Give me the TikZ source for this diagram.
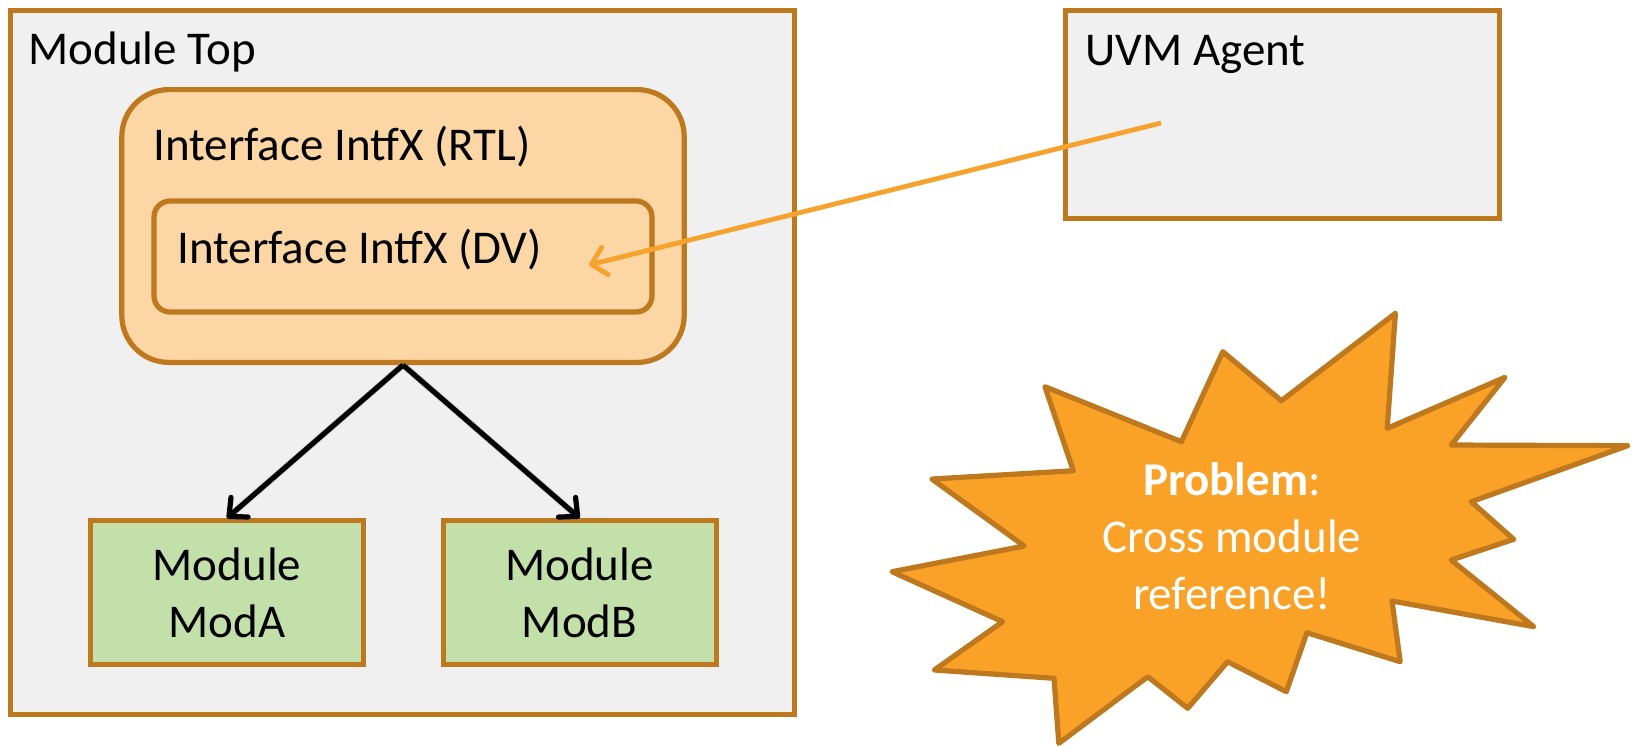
\documentclass[tikz,border=0pt]{standalone}
\usepackage{fontspec}
\setmainfont{Carlito}
\usetikzlibrary{arrows.meta}
\definecolor{boxedge}{RGB}{190,120,30}
\definecolor{topfill}{RGB}{240,240,240}
\definecolor{intffill}{RGB}{252,214,165}
\definecolor{modfill}{RGB}{195,224,171}
\definecolor{burstfill}{RGB}{250,161,40}
\definecolor{linkorange}{RGB}{248,162,46}
\begin{document}
\begin{tikzpicture}[x=0.5pt,y=-0.5pt,
  frame/.style={draw=boxedge, line width=2.6pt, inner sep=0pt},
  txt/.style={font=\fontsize{23.5}{28.5}\selectfont, inner sep=0pt},
  lbl/.style={txt, anchor=base west},
  modbox/.style={frame, fill=modfill, txt, align=center,
    minimum width=136.5pt, minimum height=71.8pt},
  hier/.style={line width=2.6pt, black,
    -{Straight Barb[length=7pt,width=13pt,round]}},
  hiershadow/.style={line width=3.5pt, black!25, opacity=0.5,
    shorten >=4pt, shift={(2,2)}},
  xref/.style={line width=2.4pt, linkorange,
    -{Straight Barb[length=7pt,width=14pt,round]}},
  burst/.style={draw=boxedge, fill=burstfill, line width=2.6pt, line join=round}]
\useasboundingbox (0,0) rectangle (1633,746);

% top-level module with its interface and sub-modules
\node[frame, fill=topfill, minimum width=392pt, minimum height=352pt] (top) at (402.5,362.4) {};
\node[lbl] (toplbl) at (28,64.6) {Module Top};

\node[frame, fill=intffill, rounded corners=23.5pt,
      minimum width=281.2pt, minimum height=136.4pt] (rtl) at (403,226) {};
\node[lbl] (rtllbl) at (153,160) {Interface IntfX (RTL)};

\node[frame, fill=intffill, rounded corners=8pt,
      minimum width=249pt, minimum height=55.5pt] (dv) at (403,256.5) {};
\node[lbl] (dvlbl) at (177,263) {Interface IntfX (DV)};

\node[modbox] (moda) at (227,592.5) {Module\\ModA};
\node[modbox] (modb) at (579.6,592.5) {Module\\ModB};

\draw[hiershadow] (rtl.south) -- (moda.north);
\draw[hiershadow] (rtl.south) -- (modb.north);
\draw[hier] (rtl.south) -- (moda.north);
\draw[hier] (rtl.south) -- (modb.north);

% verification agent
\node[frame, fill=topfill, minimum width=217.2pt, minimum height=104.2pt] (uvm) at (1282.5,114.5) {};
\node[lbl] (uvmlbl) at (1085,65) {UVM Agent};

\coordinate (uvmsrc) at (1161,123);
\coordinate (dvdst) at (589,265);
\draw[xref] (uvmsrc) -- (dvdst);

% explosion callout
\draw[burst] (1395.4,313.3) -- (1387.2,428.3) -- (1505,377.3) -- (1451.2,445)
  -- (1627.6,445.7) -- (1471.3,501.7) -- (1513.7,539.3) -- (1451.2,560)
  -- (1533.8,626.7) -- (1392,601) -- (1400.2,661.7) -- (1306.9,632.7)
  -- (1286.3,691.7) -- (1227.6,661.7) -- (1187.7,708.3) -- (1147.8,676.7)
  -- (1058.8,743.3) -- (1054,678.3) -- (934.3,670) -- (1002.6,621.7)
  -- (892,571.7) -- (1024.2,546) -- (931.9,479) -- (1073.3,470.7)
  -- (1044.9,386.7) -- (1181.4,441.7) -- (1222.8,351.7) -- (1281.4,400.7)
  -- cycle;
\node[txt, text=white, align=center] (prob) at (1232,536)
  {\textbf{Problem}:\\Cross module\\reference!};
\end{tikzpicture}
\end{document}
